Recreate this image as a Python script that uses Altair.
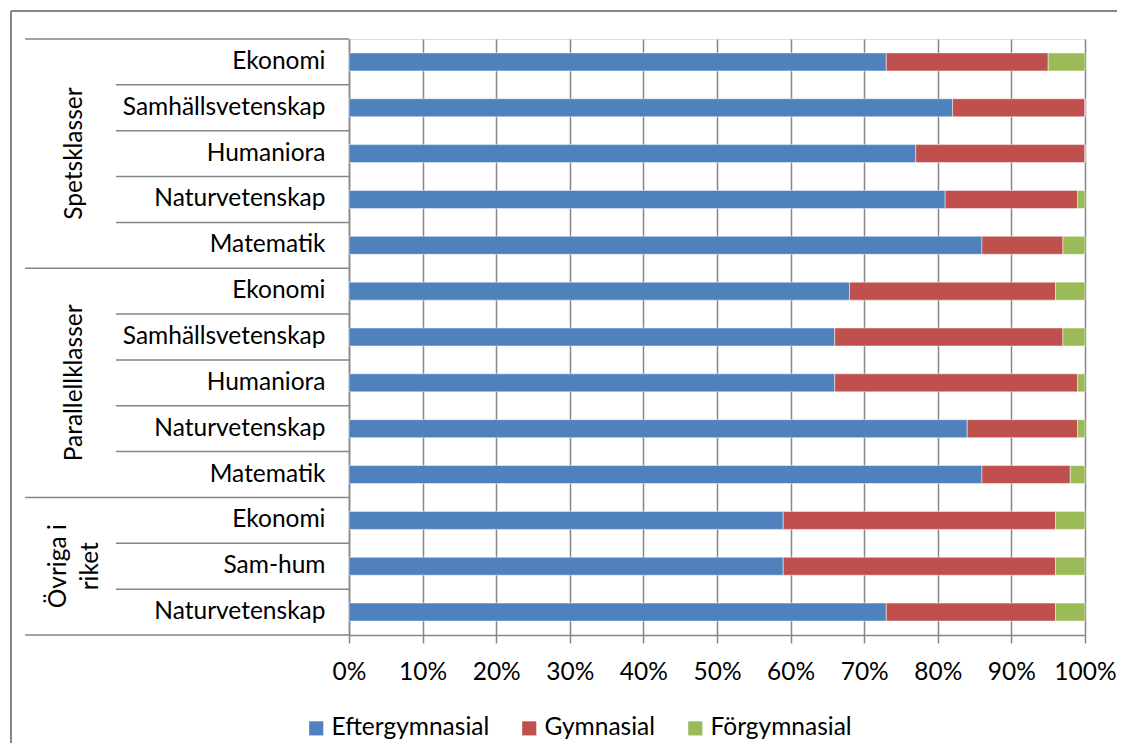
import altair as alt
import pandas as pd

# ---- data ----
groups = ["Spetsklasser"] * 5 + ["Parallellklasser"] * 5 + ["Övriga i riket"] * 3
subjects = ["Ekonomi", "Samhällsvetenskap", "Humaniora", "Naturvetenskap", "Matematik",
            "Ekonomi", "Samhällsvetenskap", "Humaniora", "Naturvetenskap", "Matematik",
            "Ekonomi", "Sam-hum", "Naturvetenskap"]
eftergymnasial = [73, 82, 77, 81, 86, 68, 66, 66, 84, 86, 59, 59, 73]
gymnasial = [22, 18, 23, 18, 11, 28, 31, 33, 15, 12, 37, 37, 23]
forgymnasial = [5, 0, 0, 1, 3, 4, 3, 1, 1, 2, 4, 4, 4]
series = ["Eftergymnasial", "Gymnasial", "Förgymnasial"]
colors = ["#4F81BD", "#C0504D", "#9BBB59"]
group_titles = {"Spetsklasser": "Spetsklasser",
                "Parallellklasser": "Parallellklasser",
                "Övriga i riket": "Övriga i\nriket"}
group_middle = {"Spetsklasser": "Humaniora", "Parallellklasser": "Humaniora",
                "Övriga i riket": "Sam-hum"}

FONT = "Lato"
FS = 24.5
GRID = "#868686"

keys = [f"{g}|{s}" for g, s in zip(groups, subjects)]

rows = []
for i, k in enumerate(keys):
    for j, (name, vals) in enumerate(zip(series, [eftergymnasial, gymnasial, forgymnasial])):
        rows.append({"key": k, "series": name, "value": vals[i], "order": j})
bars_df = pd.DataFrame(rows)

rows_df = pd.DataFrame({
    "key": keys,
    "group": groups,
    "first": [i == 0 or groups[i] != groups[i - 1] for i in range(len(keys))],
    "last": [i == len(keys) - 1 for i in range(len(keys))],
    "middle": [group_middle[g] == s for g, s in zip(groups, subjects)],
    "title": [group_titles[g] for g in groups],
})

yscale = alt.Scale(domain=keys, paddingInner=0, paddingOuter=0)
yaxis = alt.Axis(labelExpr="split(datum.label, '|')[1]", ticks=False, domain=True,
                 domainColor=GRID, domainWidth=1.5, labelFontSize=FS, labelFont=FONT,
                 labelColor="#000000", labelPadding=24, labelLimit=0, grid=False, title=None)


def ykey(**kw):
    return alt.Y("key:N", scale=yscale, axis=yaxis, title=None, **kw)


bars = alt.Chart(bars_df).mark_bar(size=18, stroke="#ffffff", strokeWidth=0.8, strokeOpacity=0.6).encode(
    y=ykey(),
    x=alt.X("value:Q", stack="zero", title=None,
            scale=alt.Scale(domain=[0, 100], nice=False),
            axis=alt.Axis(values=list(range(0, 101, 10)), labelExpr="datum.value + '%'",
                          grid=True, gridColor=GRID, gridWidth=1.5, domainColor=GRID, domainWidth=1.5,
                          tickColor=GRID, tickWidth=1.5, tickSize=8, labelFontSize=FS, labelFont=FONT,
                          labelColor="#000000", labelPadding=17, labelFlush=False)),
    color=alt.Color("series:N", scale=alt.Scale(domain=series, range=colors),
                    legend=alt.Legend(title=None, orient="none", legendX=-45, legendY=677,
                                      direction="horizontal", symbolType="square", symbolSize=200,
                                      symbolStrokeWidth=0, labelFontSize=FS, labelFont=FONT,
                                      labelColor="#000000", columnPadding=27, labelOffset=3,
                                      padding=0)),
    order=alt.Order("order:Q"),
)

base_rows = alt.Chart(rows_df)

inner_sep = base_rows.transform_filter("!datum.first").mark_rule(color=GRID, strokeWidth=1.5).encode(
    y=ykey(bandPosition=0), x=alt.value(-233), x2=alt.value(0))

group_sep = base_rows.transform_filter("datum.first").mark_rule(color=GRID, strokeWidth=1.5).encode(
    y=ykey(bandPosition=0), x=alt.value(-324), x2=alt.value(0))

bottom_sep = base_rows.transform_filter("datum.last").mark_rule(color=GRID, strokeWidth=1.5).encode(
    y=ykey(bandPosition=1), x=alt.value(-324), x2=alt.value(0))

single_titles = base_rows.transform_filter("datum.middle && indexof(datum.title, '\\n') < 0").mark_text(
    angle=270, align="center", baseline="middle", fontSize=FS, font=FONT, color="#000000").encode(
    y=ykey(), x=alt.value(-274), text="title:N")

multi_titles = base_rows.transform_filter("datum.middle && indexof(datum.title, '\\n') >= 0").mark_text(
    angle=270, align="center", baseline="middle", fontSize=FS, font=FONT, color="#000000",
    lineBreak="\n", lineHeight=32).encode(
    y=ykey(), x=alt.value(-290), text="title:N")

frame_df = pd.DataFrame({"f": [0]})
frame_top = alt.Chart(frame_df).mark_rule(color="#878787", strokeWidth=2).encode(
    x=alt.value(-338), x2=alt.value(768), y=alt.value(-28))
frame_left = alt.Chart(frame_df).mark_rule(color="#878787", strokeWidth=2).encode(
    x=alt.value(-338), y=alt.value(-28), y2=alt.value(704))

chart = alt.layer(bars, inner_sep, group_sep, bottom_sep,
                  single_titles, multi_titles, frame_top, frame_left).properties(
    width=736, height=596,
    padding={"left": 2, "top": 2, "right": 0, "bottom": 0},
).configure_view(stroke=None).configure(font=FONT)

chart.save("out.html", embed_options={"renderer": "svg", "actions": False})
